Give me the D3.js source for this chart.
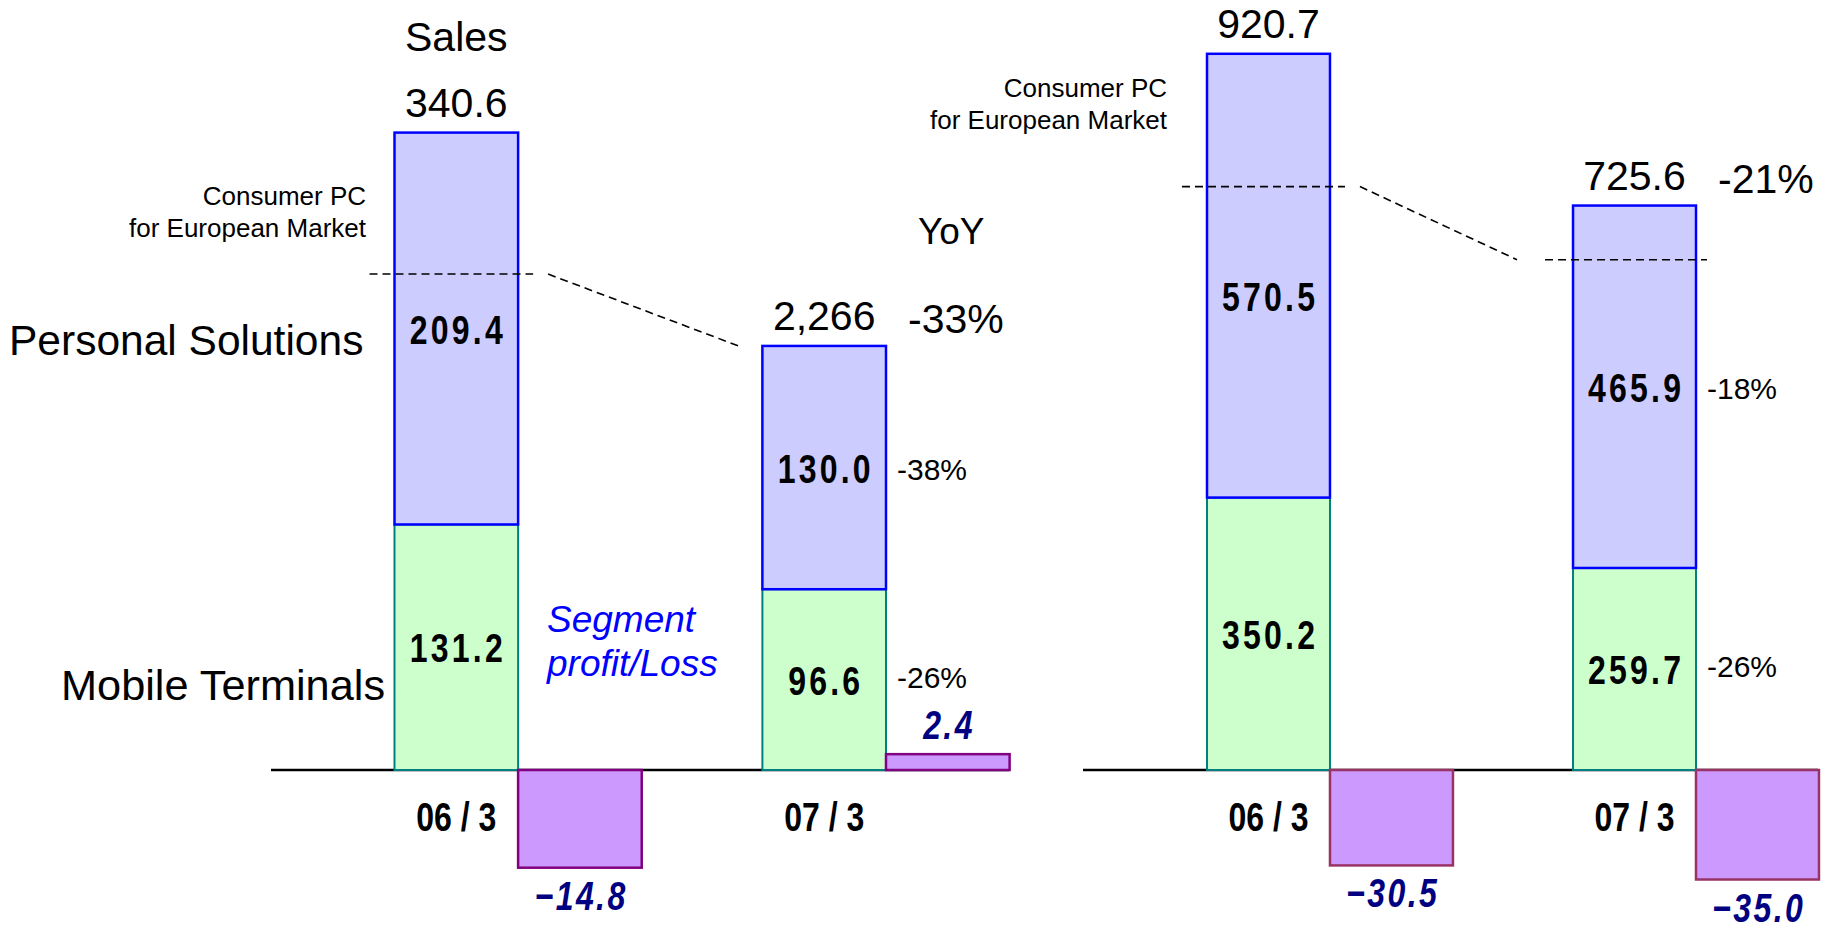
<!DOCTYPE html>
<html>
<head>
<meta charset="utf-8">
<script src="https://cdn.jsdelivr.net/npm/d3@7"></script>
<style>
  body { margin: 0; background: #fff; }
  text { font-family: "Liberation Sans", Arial, sans-serif; }
</style>
</head>
<body>
<div id="chart-area"></div>
<script>
// periods on the x axis
const periods = ["06/3", "07/3"];

// left panel (Personal Solutions / Mobile Terminals)
const leftUpper = [209.4, 130.0];
const leftLower = [131.2, 96.6];
const leftTotalLabels = ["340.6", "2,266"];
const leftProfit = [-14.8, 2.4];
const leftYoY = ["-33%", "-38%", "-26%"];   // total, upper, lower
const leftEuroCut = [265, 226.6];

// right panel
const rightUpper = [570.5, 465.9];
const rightLower = [350.2, 259.7];
const rightTotalLabels = ["920.7", "725.6"];
const rightProfit = [-30.5, -35.0];
const rightYoY = ["-21%", "-18%", "-26%"];
const rightEuroCut = [750, 656];

const width = 1839;
const height = 929;
const baseY = 770;

const svg = d3.select("#chart-area").append("svg")
	.attr("width", width)
	.attr("height", height)

const fmt = d3.format(".1f")

// bold narrow label, like the gothic font in the original
const condText = (g, x, y, txt, size, ls, fill, italic) => {
	g.append("text")
		.attr("transform", `translate(${x + ls * 0.8 / 2},${y}) scale(0.8,1)`)
		.attr("text-anchor", "middle")
		.attr("font-size", size + "px")
		.attr("font-weight", "bold")
		.attr("font-style", italic ? "italic" : "normal")
		.attr("letter-spacing", ls)
		.attr("fill", fill)
		.text(txt)
}

const drawPanel = (cfg) => {
	const g = svg.append("g")
	const x = cfg.x, y = cfg.y, p = cfg.p
	const bw = x.bandwidth()

	// zero line
	g.append("line")
		.attr("x1", cfg.lineFrom).attr("x2", cfg.lineTo)
		.attr("y1", y(0)).attr("y2", y(0))
		.attr("stroke", "#000").attr("stroke-width", 2.5)

	// lower segment
	g.selectAll(".lower").data(periods).join("rect")
		.attr("class", "lower")
		.attr("x", d => x(d))
		.attr("y", (d, i) => y(cfg.lower[i]))
		.attr("width", bw)
		.attr("height", (d, i) => y(0) - y(cfg.lower[i]))
		.attr("fill", "#ccffcc")
		.attr("stroke", "#008080")
		.attr("stroke-width", 2)

	// upper segment
	g.selectAll(".upper").data(periods).join("rect")
		.attr("class", "upper")
		.attr("x", d => x(d))
		.attr("y", (d, i) => y(cfg.lower[i] + cfg.upper[i]))
		.attr("width", bw)
		.attr("height", (d, i) => y(cfg.lower[i]) - y(cfg.lower[i] + cfg.upper[i]))
		.attr("fill", "#ccccff")
		.attr("stroke", "#0000ff")
		.attr("stroke-width", 2.5)

	// segment profit bars, right next to the sales bars
	g.selectAll(".profit").data(periods).join("rect")
		.attr("class", "profit")
		.attr("x", d => x(d) + bw)
		.attr("y", (d, i) => Math.min(p(0), p(cfg.profit[i])))
		.attr("width", bw)
		.attr("height", (d, i) => Math.abs(p(cfg.profit[i]) - p(0)))
		.attr("fill", "#cc99ff")
		.attr("stroke", cfg.profitStroke)
		.attr("stroke-width", 2.5)

	periods.forEach((per, i) => {
		const cx = x(per) + bw / 2
		const top = y(cfg.lower[i] + cfg.upper[i])
		const mid = y(cfg.lower[i])
		// inner values
		condText(g, cx, (top + mid) / 2 + 15 + (cfg.upperNudge[i] || 0), fmt(cfg.upper[i]), 40, 4, "#000")
		condText(g, cx, (mid + y(0)) / 2 + 15, fmt(cfg.lower[i]), 40, 4, "#000")
		// totals
		g.append("text")
			.attr("x", cx).attr("y", top - 16)
			.attr("text-anchor", "middle")
			.attr("font-size", "41px")
			.text(cfg.totals[i])
		// period label
		condText(g, cx, 831, per.replace("/", " / "), 40, 0, "#000")
		// profit value
		const v = cfg.profit[i]
		const py = v < 0 ? p(v) + 42 : p(v) - 15
		condText(g, cx + bw, py, fmt(v), 40, 3, "#000080", true)
	})

	// YoY for the latest year
	const last = periods[1]
	const xr = x(last) + bw
	const topL = y(cfg.lower[1] + cfg.upper[1])
	const midL = y(cfg.lower[1])
	g.append("text")
		.attr("x", xr + 22).attr("y", topL - 13)
		.attr("font-size", "41px")
		.text(cfg.yoy[0])
	g.append("text")
		.attr("x", xr + 11).attr("y", (topL + midL) / 2 + 12)
		.attr("font-size", "30px")
		.text(cfg.yoy[1])
	g.append("text")
		.attr("x", xr + 11).attr("y", (midL + y(0)) / 2 + 8)
		.attr("font-size", "30px")
		.text(cfg.yoy[2])

	// dashed guide for the European consumer PC share
	const x0 = x(periods[0]), x1 = x(periods[1])
	const v0 = y(cfg.euro[0]), v1 = y(cfg.euro[1])
	const line = d3.line()
	const segs = [
		[[x0 - 25, v0], [x0 + bw + 15, v0]],
		[[x0 + bw + 30, v0], [x1 - cfg.diagGap, v1]]
	]
	if (cfg.secondCut) segs.push([[x1 - 28, v1], [x1 + bw + 11, v1]])
	g.selectAll(".cut").data(segs).join("path")
		.attr("class", "cut")
		.attr("d", line)
		.attr("fill", "none")
		.attr("stroke", "#000")
		.attr("stroke-width", 1.6)
		.attr("stroke-dasharray", "8,5")

	// note text
	g.append("text")
		.attr("text-anchor", "end")
		.attr("font-size", "26px")
		.selectAll("tspan").data(["Consumer PC", "for European Market"]).join("tspan")
		.attr("x", cfg.noteX)
		.attr("y", (d, i) => cfg.noteY + i * 32)
		.text(d => d)

	return g
}

// left panel
const xLeft = d3.scaleBand().domain(periods).range([394.5, 886]).paddingInner(0.664)
const yLeft = d3.scaleLinear().domain([0, 350]).range([baseY, 115])
const pLeft = d3.scaleLinear().domain([0, 15]).range([baseY, baseY - 99])

const gl = drawPanel({
	x: xLeft, y: yLeft, p: pLeft,
	upper: leftUpper, lower: leftLower, totals: leftTotalLabels,
	profit: leftProfit, yoy: leftYoY, euro: leftEuroCut,
	lineFrom: 271, lineTo: 1009, profitStroke: "#800080",
	diagGap: 24, secondCut: false, noteX: 366, noteY: 205,
	upperNudge: [0, 0]
})

// right panel
const xRight = d3.scaleBand().domain(periods).range([1207, 1696]).paddingInner(0.664)
const yRight = d3.scaleLinear().domain([0, 950]).range([baseY, 31])
const pRight = d3.scaleLinear().domain([0, 35]).range([baseY, baseY - 109.5])

drawPanel({
	x: xRight, y: yRight, p: pRight,
	upper: rightUpper, lower: rightLower, totals: rightTotalLabels,
	profit: rightProfit, yoy: rightYoY, euro: rightEuroCut,
	lineFrom: 1083, lineTo: 1818, profitStroke: "#993366",
	diagGap: 56, secondCut: true, noteX: 1167, noteY: 97,
	upperNudge: [20, 0]
})

// titles and row labels
gl.append("text")
	.attr("x", xLeft(periods[0]) + xLeft.bandwidth() / 2).attr("y", 51)
	.attr("text-anchor", "middle")
	.attr("font-size", "41px")
	.text("Sales")

gl.append("text")
	.attr("x", 918).attr("y", 244)
	.attr("font-size", "37px")
	.text("YoY")

gl.append("text")
	.attr("x", 9).attr("y", 355)
	.attr("font-size", "42.5px")
	.text("Personal Solutions")

gl.append("text")
	.attr("x", 61).attr("y", 700)
	.attr("font-size", "43.3px")
	.text("Mobile Terminals")

gl.append("text")
	.attr("font-size", "37px")
	.attr("font-style", "italic")
	.attr("fill", "#0000ff")
	.selectAll("tspan").data(["Segment", "profit/Loss"]).join("tspan")
	.attr("x", 547)
	.attr("y", (d, i) => 632 + i * 44)
	.text(d => d)
</script>
</body>
</html>
